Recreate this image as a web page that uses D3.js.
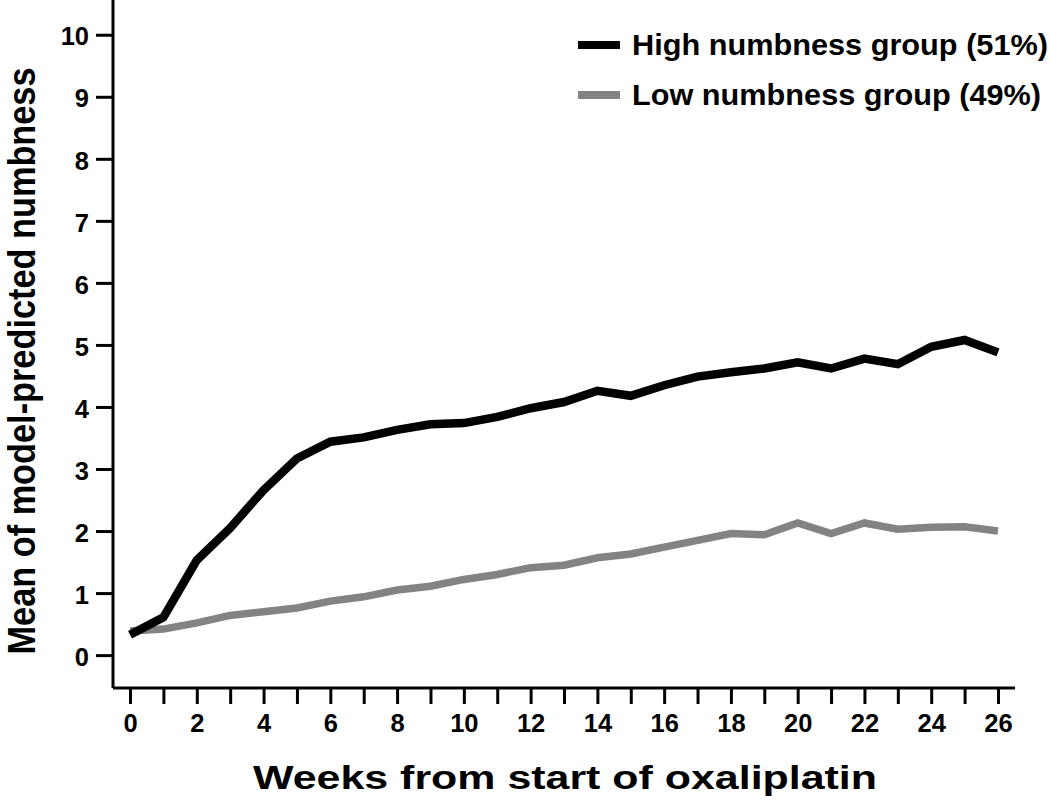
<!DOCTYPE html>
<html>
<head>
<meta charset="utf-8">
<script src="https://cdn.jsdelivr.net/npm/d3@7"></script>
<style>
  html, body { margin: 0; padding: 0; background: #fff; }
  svg { display: block; }
  text { font-family: "Liberation Sans", Arial, Helvetica, sans-serif; font-weight: bold; fill: #000; }
</style>
</head>
<body>
<svg id="chart" width="1050" height="805"></svg>
<script>
// ---- data ----
const weeks = d3.range(0, 27);
const highNumbness = [0.33, 0.61, 1.53, 2.05, 2.66, 3.17, 3.44, 3.51, 3.63, 3.72, 3.74, 3.84, 3.98,
                      4.08, 4.26, 4.18, 4.35, 4.49, 4.56, 4.62, 4.72, 4.62, 4.78, 4.69, 4.97, 5.08, 4.88];
const lowNumbness  = [0.39, 0.42, 0.52, 0.64, 0.70, 0.76, 0.87, 0.94, 1.05, 1.11, 1.22, 1.30, 1.41,
                      1.45, 1.57, 1.63, 1.74, 1.85, 1.96, 1.94, 2.13, 1.96, 2.13, 2.03, 2.06, 2.07, 2.00];
const seriesNames = ["High numbness group (51%)", "Low numbness group (49%)"];
const yTicks = d3.range(0, 11);
const xTicks = d3.range(0, 27);
const xTitle = "Weeks from start of oxaliplatin";
const yTitle = "Mean of model-predicted numbness";

// ---- layout ----
const svg = d3.select("#chart");
const x = d3.scaleLinear().domain([-0.51, 26.51]).range([113, 1015]);
const y = d3.scaleLinear().domain([-0.53, 10.56]).range([688, 0]);

// lines
const line = d3.line().x((d, i) => x(weeks[i])).y(d => y(d));
svg.append("path").datum(lowNumbness)
  .attr("d", line).attr("fill", "none").attr("stroke", "#838383")
  .attr("stroke-width", 7.5).attr("stroke-linejoin", "miter");
svg.append("path").datum(highNumbness)
  .attr("d", line).attr("fill", "none").attr("stroke", "#000")
  .attr("stroke-width", 8.5).attr("stroke-linejoin", "miter");

// y axis
const yAxis = d3.axisLeft(y).tickValues(yTicks).tickSize(17).tickPadding(7).tickFormat(d3.format("d"));
const gy = svg.append("g").attr("transform", "translate(113,0)").call(yAxis);
gy.select(".domain").attr("stroke-width", 3).attr("d", `M0,${y.range()[1]}V${y.range()[0]}`);
gy.selectAll(".tick line").attr("stroke-width", 3);
gy.selectAll(".tick text").style("font-size", "25.5px").attr("dy", "0.40em");

// x axis
const xAxis = d3.axisBottom(x).tickValues(xTicks).tickSize(16).tickPadding(10)
  .tickFormat(d => (d % 2 === 0 ? d : ""));
const gx = svg.append("g").attr("transform", "translate(0,688)").call(xAxis);
gx.select(".domain").attr("stroke-width", 3).attr("d", `M${x.range()[0]},0H${x.range()[1]}`);
gx.selectAll(".tick line").attr("stroke-width", 3);
gx.selectAll(".tick text").style("font-size", "25.5px").attr("dy", "0.71em");

// axis titles
svg.append("text").attr("x", 565).attr("y", 789).attr("text-anchor", "middle")
  .style("font-size", "34px").attr("textLength", 624).attr("lengthAdjust", "spacingAndGlyphs")
  .text(xTitle);
svg.append("text").attr("transform", "translate(35,361) scale(1.15,1) rotate(-90)")
  .attr("text-anchor", "middle").style("font-size", "33px")
  .attr("textLength", 587).attr("lengthAdjust", "spacingAndGlyphs")
  .text(yTitle);

// legend
const legend = [
  { name: seriesNames[0], color: "#000", yc: 45, len: 416 },
  { name: seriesNames[1], color: "#838383", yc: 95, len: 409 }
];
legend.forEach(l => {
  svg.append("line").attr("x1", 578).attr("x2", 620).attr("y1", l.yc).attr("y2", l.yc)
    .attr("stroke", l.color).attr("stroke-width", 8);
  svg.append("text").attr("x", 632).attr("y", l.yc + 10).style("font-size", "29px")
    .attr("textLength", l.len).attr("lengthAdjust", "spacingAndGlyphs").text(l.name);
});
</script>
</body>
</html>
